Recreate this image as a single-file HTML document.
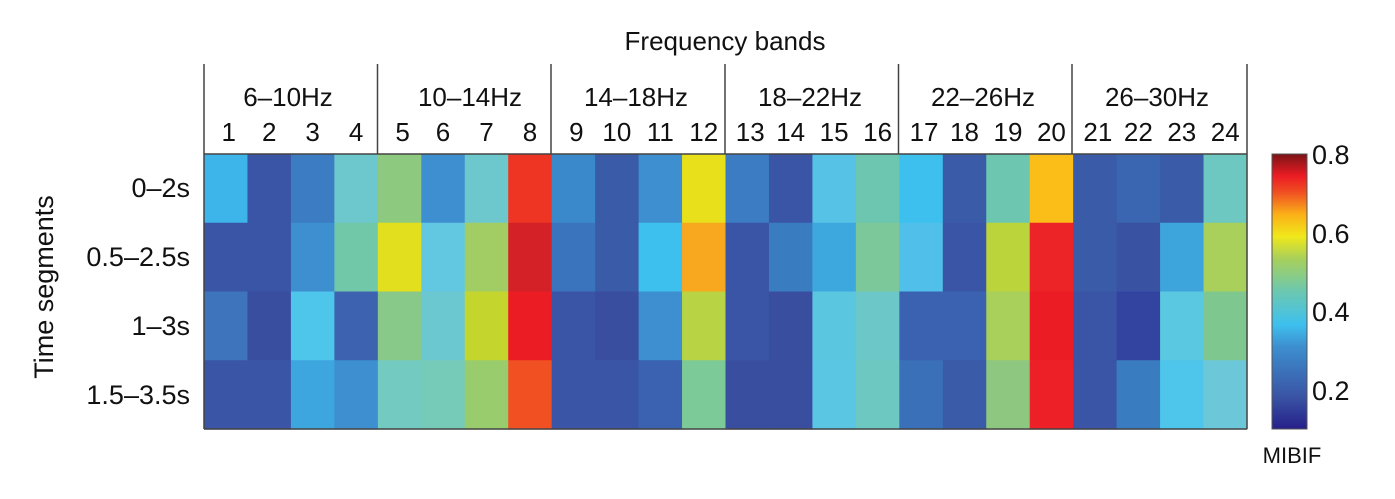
<!DOCTYPE html>
<html><head><meta charset="utf-8"><style>
html,body{margin:0;padding:0;background:#fff;width:1395px;height:499px;overflow:hidden}
text{font-family:"Liberation Sans",Arial,sans-serif;fill:#111}
</style></head><body>
<svg id="s" width="1395" height="499" viewBox="0 0 1395 499" xmlns="http://www.w3.org/2000/svg">
<defs><linearGradient id="jet" x1="0" y1="1" x2="0" y2="0">
<stop offset="0" stop-color="#26208a"/><stop offset="0.12" stop-color="#3a55a5"/><stop offset="0.3" stop-color="#3d8fcf"/><stop offset="0.38" stop-color="#3ec0ee"/><stop offset="0.5" stop-color="#6cc8b0"/><stop offset="0.62" stop-color="#a8d05a"/><stop offset="0.7" stop-color="#f0e81a"/><stop offset="0.78" stop-color="#fbb018"/><stop offset="0.86" stop-color="#f05022"/><stop offset="0.92" stop-color="#ec1c24"/><stop offset="1" stop-color="#7a1416"/>
</linearGradient></defs>
<g id="cells"></g>
<text x="725" y="50" font-size="26" text-anchor="middle">Frequency bands</text>
<g stroke="#444" stroke-width="1.5">
<line x1="204" y1="64" x2="204" y2="429"/><line x1="377.5" y1="64" x2="377.5" y2="154"/><line x1="551" y1="64" x2="551" y2="154"/><line x1="725" y1="64" x2="725" y2="154"/><line x1="898.5" y1="64" x2="898.5" y2="154"/><line x1="1072" y1="64" x2="1072" y2="154"/><line x1="1247" y1="64" x2="1247" y2="429"/>
<line x1="204" y1="154" x2="1247" y2="154"/><line x1="204" y1="429" x2="1247" y2="429"/>
</g>
<g font-size="26" text-anchor="middle">
<text x="288" y="106">6–10Hz</text><text x="470" y="106">10–14Hz</text><text x="636" y="106">14–18Hz</text><text x="810" y="106">18–22Hz</text><text x="983" y="106">22–26Hz</text><text x="1157" y="106">26–30Hz</text>
</g>
<g id="nums" font-size="26" text-anchor="middle"></g>
<g font-size="27" text-anchor="end">
<text x="190" y="197">0–2s</text><text x="190" y="266">0.5–2.5s</text><text x="190" y="335">1–3s</text><text x="190" y="404">1.5–3.5s</text>
</g>
<text transform="translate(53,287) rotate(-90)" font-size="27" text-anchor="middle">Time segments</text>
<rect x="1272" y="154" width="35" height="275" fill="url(#jet)" stroke="#555" stroke-width="1"/>
<g font-size="27"><text x="1312" y="164">0.8</text><text x="1312" y="243">0.6</text><text x="1312" y="321">0.4</text><text x="1312" y="400">0.2</text></g>
<text x="1292" y="463" font-size="22" text-anchor="middle">MIBIF</text>
</svg>
<script>
var C=[
["#3db5ea","#3a55a5","#3b7cc2","#6cc8cc","#8dca7f","#3d8fcf","#6cc8cc","#ee3524","#3a8acb","#3a5ba8","#3d8fcf","#e8e01b","#3b7cc2","#3a55a5","#56c2e6","#6cc6b0","#3ec0ee","#3a5ba8","#6cc6b0","#fbbd18","#3a5ba8","#3a65b0","#3a5ba8","#6cc8c0"],
["#3a55a5","#3a55a5","#3d8fcf","#70c8a8","#e2e01e","#62c8e2","#a2cc64","#d42027","#3a74bc","#3a5ba8","#3ec0ee","#f7a81e","#3a55a5","#3a7cc0","#3da8de","#7cc89a","#50c0ea","#3a55a5","#bcd43c","#ec2327","#3a5ba8","#3a52a2","#3da4dc","#a8d05a"],
["#3d74bc","#3a4ea0","#4ec6ec","#3d62b0","#88c888","#6cc8d0","#c4d62e","#ec1c24","#3a55a5","#3a4ea0","#3d8fcf","#b8d444","#3a55a5","#3a4ea0","#5ac6e0","#6cc8c8","#3a62b0","#3a62b0","#a8d05a","#ec1c24","#3a55a5","#3344a0","#5ac8e0","#7ec890"],
["#3a55a5","#3a55a5","#3da6de","#3d8fcf","#72cac0","#76cab8","#98cc6c","#f05022","#3a55a5","#3a55a5","#3a62b0","#7cca98","#3a4ea0","#3a4ea0","#5ac6e4","#6cc8c0","#3a70b8","#3a5ba8","#8ec880","#ec2026","#3a55a5","#3a7cc0","#4ec6ec","#6cc8d8"]];
var ns="http://www.w3.org/2000/svg",g=document.getElementById("cells"),n=document.getElementById("nums");
var x0=204,w=(1247-204)/24,y0=154,h=275/4;
for(var r=0;r<4;r++)for(var c=0;c<24;c++){var e=document.createElementNS(ns,"rect");e.setAttribute("x",x0+c*w);e.setAttribute("y",y0+r*h);e.setAttribute("width",w+0.6);e.setAttribute("height",h+0.6);e.setAttribute("fill",C[r][c]);g.appendChild(e);}
for(var c=0;c<24;c++){var t=document.createElementNS(ns,"text");t.setAttribute("x",x0+c*w+w/2+(c%4==0?3:0));t.setAttribute("y",141);t.textContent=c+1;n.appendChild(t);}
</script>
</body></html>
